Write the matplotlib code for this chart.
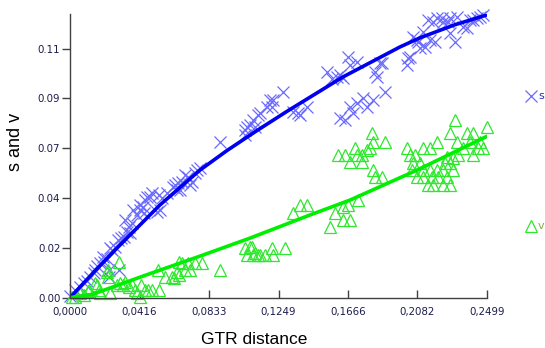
import matplotlib
matplotlib.use("Agg")
import matplotlib.pyplot as plt
from matplotlib.ticker import FormatStrFormatter

# s (transitions) points
s_x = [0.0000, 0.0030, 0.0060, 0.0084, 0.0102, 0.0120, 0.0144, 0.0150, 0.0162, 0.0180,
       0.0204, 0.0222, 0.0234, 0.0294, 0.0234, 0.0198, 0.0240, 0.0252, 0.0270, 0.0288,
       0.0306, 0.0324, 0.0330, 0.0342, 0.0354, 0.0360, 0.0372, 0.0378, 0.0402, 0.0420,
       0.0420, 0.0444, 0.0438, 0.0449, 0.0461, 0.0479, 0.0491, 0.0521, 0.0533, 0.0551,
       0.0539, 0.0581, 0.0617, 0.0629, 0.0641, 0.0647, 0.0659, 0.0671, 0.0689, 0.0707,
       0.0719, 0.0731, 0.0749, 0.0761, 0.0779, 0.0899, 0.1049, 0.1049, 0.1061, 0.1079,
       0.1097, 0.1109, 0.1127, 0.1139, 0.1181, 0.1199, 0.1211, 0.1217, 0.1277, 0.1336,
       0.1366, 0.1378, 0.1420, 0.1540, 0.1570, 0.1600, 0.1618, 0.1636, 0.1666, 0.1678,
       0.1720, 0.1828, 0.1870, 0.1840, 0.1618, 0.1648, 0.1678, 0.1696, 0.1720, 0.1756,
       0.1780, 0.1816, 0.1888, 0.1858, 0.2020, 0.2026, 0.2038, 0.2056, 0.2080, 0.2086,
       0.2098, 0.2116, 0.2128, 0.2146, 0.2158, 0.2176, 0.2188, 0.2200, 0.2230, 0.2235,
       0.2265, 0.2277, 0.2277, 0.2307, 0.2319, 0.2355, 0.2379, 0.2397, 0.2415, 0.2439,
       0.2457, 0.2475]
s_y = [0.0008, 0.0035, 0.0048, 0.0066, 0.0075, 0.0093, 0.0111, 0.0125, 0.0143, 0.0156,
       0.0161, 0.0174, 0.0125, 0.0125, 0.0093, 0.0183, 0.0224, 0.0215, 0.0228, 0.0260,
       0.0269, 0.0273, 0.0350, 0.0296, 0.0318, 0.0291, 0.0336, 0.0394, 0.0372, 0.0394,
       0.0417, 0.0381, 0.0408, 0.0439, 0.0453, 0.0453, 0.0471, 0.0385, 0.0462, 0.0448,
       0.0394, 0.0471, 0.0498, 0.0507, 0.0484, 0.0516, 0.0484, 0.0520, 0.0552, 0.0543,
       0.0507, 0.0520, 0.0561, 0.0574, 0.0583, 0.0700, 0.0754, 0.0732, 0.0768, 0.0777,
       0.0800, 0.0768, 0.0822, 0.0831, 0.0858, 0.0889, 0.0858, 0.0889, 0.0925, 0.0835,
       0.0831, 0.0822, 0.0858, 0.1015, 0.0985, 0.0993, 0.1002, 0.0989, 0.1083, 0.1047,
       0.1060, 0.1015, 0.1056, 0.0993, 0.0808, 0.0799, 0.0858, 0.0831, 0.0876, 0.0898,
       0.0858, 0.0889, 0.0925, 0.1056, 0.1047, 0.1078, 0.1083, 0.1173, 0.1159, 0.1150,
       0.1123, 0.1195, 0.1128, 0.1249, 0.1159, 0.1240, 0.1150, 0.1258, 0.1258, 0.1240,
       0.1240, 0.1191, 0.1258, 0.1150, 0.1263, 0.1218, 0.1213, 0.1249, 0.1249, 0.1258,
       0.1263, 0.1272]

# v (transversions) points
v_x = [0.0012, 0.0030, 0.0054, 0.0060, 0.0084, 0.0108, 0.0114, 0.0150, 0.0162, 0.0174,
       0.0180, 0.0222, 0.0228, 0.0228, 0.0240, 0.0282, 0.0294, 0.0300, 0.0318, 0.0330,
       0.0354, 0.0372, 0.0390, 0.0402, 0.0420, 0.0426, 0.0449, 0.0467, 0.0491, 0.0527,
       0.0533, 0.0569, 0.0611, 0.0623, 0.0641, 0.0653, 0.0653, 0.0671, 0.0689, 0.0707,
       0.0719, 0.0749, 0.0791, 0.0899, 0.1049, 0.1061, 0.1079, 0.1091, 0.1097, 0.1109,
       0.1127, 0.1139, 0.1169, 0.1211, 0.1217, 0.1289, 0.1336, 0.1378, 0.1420, 0.1558,
       0.1588, 0.1636, 0.1666, 0.1636, 0.1678, 0.1726, 0.1606, 0.1648, 0.1678, 0.1708,
       0.1720, 0.1750, 0.1750, 0.1780, 0.1810, 0.1816, 0.1888, 0.1816, 0.1828, 0.1870,
       0.2020, 0.2038, 0.2068, 0.2116, 0.2158, 0.2200, 0.2277, 0.2307, 0.2379, 0.2415,
       0.2499, 0.2319, 0.2355, 0.2445, 0.2475, 0.2415, 0.2325, 0.2056, 0.2098, 0.2050,
       0.2080, 0.2116, 0.2146, 0.2176, 0.2170, 0.2206, 0.2247, 0.2277, 0.2235, 0.2295,
       0.2259, 0.2235, 0.2277, 0.2116, 0.2158, 0.2200, 0.2259, 0.2295, 0.2397, 0.2457,
       0.1798]
v_y = [0.0003, 0.0003, 0.0026, 0.0021, 0.0012, 0.0030, 0.0035, 0.0066, 0.0057, 0.0035,
       0.0021, 0.0116, 0.0125, 0.0093, 0.0021, 0.0057, 0.0161, 0.0066, 0.0057, 0.0071,
       0.0048, 0.0057, 0.0035, 0.0021, 0.0003, 0.0057, 0.0035, 0.0035, 0.0035, 0.0125,
       0.0035, 0.0093, 0.0093, 0.0089, 0.0116, 0.0102, 0.0161, 0.0156, 0.0125, 0.0156,
       0.0125, 0.0156, 0.0156, 0.0125, 0.0224, 0.0192, 0.0228, 0.0228, 0.0192, 0.0201,
       0.0192, 0.0192, 0.0192, 0.0224, 0.0192, 0.0224, 0.0381, 0.0417, 0.0417, 0.0318,
       0.0381, 0.0408, 0.0417, 0.0350, 0.0350, 0.0439, 0.0642, 0.0642, 0.0610, 0.0673,
       0.0642, 0.0610, 0.0642, 0.0664, 0.0740, 0.0700, 0.0700, 0.0574, 0.0543, 0.0543,
       0.0673, 0.0642, 0.0642, 0.0673, 0.0673, 0.0700, 0.0740, 0.0799, 0.0740, 0.0740,
       0.0768, 0.0700, 0.0673, 0.0673, 0.0673, 0.0642, 0.0642, 0.0606, 0.0606, 0.0574,
       0.0543, 0.0543, 0.0507, 0.0507, 0.0543, 0.0543, 0.0606, 0.0606, 0.0574, 0.0574,
       0.0543, 0.0507, 0.0507, 0.0574, 0.0574, 0.0574, 0.0633, 0.0628, 0.0700, 0.0700,
       0.0673]

# fitted curves
s_fit_x = [0.0000, 0.0144, 0.0288, 0.0539, 0.0779, 0.0941, 0.1121, 0.1300, 0.1636, 0.1978, 0.2098, 0.2300, 0.2499]
s_fit_y = [0.0000, 0.0116, 0.0228, 0.0417, 0.0574, 0.0662, 0.0752, 0.0838, 0.0993, 0.1128, 0.1169, 0.1226, 0.1272]
v_fit_x = [0.0000, 0.0138, 0.0437, 0.0779, 0.1079, 0.1438, 0.1678, 0.2080, 0.2499]
v_fit_y = [0.0000, 0.0016, 0.0097, 0.0187, 0.0268, 0.0372, 0.0439, 0.0574, 0.0726]

x_ticks = [0.0, 0.04165, 0.0833, 0.12495, 0.1666, 0.20825, 0.2499]
x_tick_labels = ['0,0000', '0,0416', '0,0833', '0,1249', '0,1666', '0,2082', '0,2499']
y_ticks = [0.0, 0.0224, 0.0448, 0.0672, 0.0896, 0.112]

plt.rcParams['font.family'] = ['DejaVu Sans']
fig = plt.figure(figsize=(5.45, 3.48), dpi=100)
ax = fig.add_axes([70/545, 1-297.7/348, 417/545, (297.7-14)/348])

ax.plot(s_x, s_y, linestyle='none', marker='x', markersize=8, markeredgewidth=0.9,
        color='#6a6aff', clip_on=False)
ax.plot(v_x, v_y, linestyle='none', marker='^', markersize=8, markeredgewidth=0.9,
        markerfacecolor='none', markeredgecolor='#2ee82e', clip_on=False)
ax.plot(s_fit_x, s_fit_y, color='#0000ee', linewidth=2.6, solid_capstyle='round')
ax.plot(v_fit_x, v_fit_y, color='#00ee00', linewidth=2.6, solid_capstyle='round')

ax.set_xlim(0, 0.2499)
ax.set_ylim(0, 0.1276)
ax.set_xticks(x_ticks)
ax.set_xticklabels(x_tick_labels)
ax.set_yticks(y_ticks)
ax.yaxis.set_major_formatter(FormatStrFormatter('%.2f'))

for side in ['top', 'right']:
    ax.spines[side].set_visible(False)
for side in ['left', 'bottom']:
    ax.spines[side].set_color('#404040')
    ax.spines[side].set_linewidth(1.0)

ax.tick_params(axis='x', direction='in', length=6, width=1, color='#404040',
               labelsize=7.4, labelcolor='#1c1c4c', pad=7)
ax.tick_params(axis='y', direction='out', length=6, width=1, color='#404040',
               labelsize=7.4, labelcolor='#1c1c4c', pad=1)

fig.text(254/545, 1-340/348, 'GTR distance', ha='center', va='center',
         fontsize=12.5, family='Liberation Sans')
fig.text(16/545, 1-142/348, 's and v', ha='center', va='center', rotation=90,
         fontsize=13, family='Liberation Sans')

# legend glyphs on the right edge
fig.lines.append(plt.Line2D([531/545], [1-96/348], marker='x', markersize=8,
                            markeredgewidth=0.9, color='#6a6aff', transform=fig.transFigure))
fig.lines.append(plt.Line2D([531/545], [1-226/348], marker='^', markersize=8,
                            markeredgewidth=0.9, markerfacecolor='none',
                            markeredgecolor='#2ee82e', transform=fig.transFigure))
fig.text(538/545, 1-96/348, 's', ha='left', va='center', fontsize=8, color='#3030c0')
fig.text(538/545, 1-226/348, 'v', ha='left', va='center', fontsize=8, color='#88aa44')

fig.savefig('out.png', dpi=100)
